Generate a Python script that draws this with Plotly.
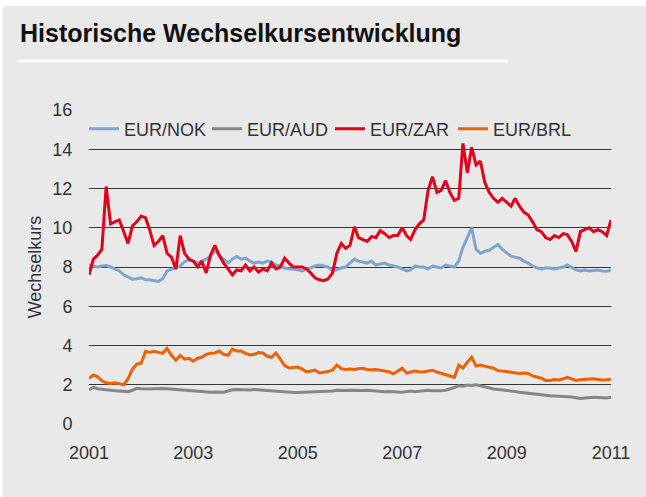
import pandas as pd
import plotly.graph_objects as go

months = pd.date_range(start="2001-01-01", periods=121, freq="MS")

eur_nok = [
    8.10, 8.05, 8.00, 8.05, 8.07, 8.00, 7.90, 7.80, 7.60, 7.50,
    7.38, 7.40, 7.45, 7.35, 7.35, 7.30, 7.27, 7.40, 7.80, 7.88,
    7.95, 8.05, 8.27, 8.35, 8.30, 8.20, 8.30, 8.40, 8.55, 8.85,
    8.60, 8.40, 8.20, 8.40, 8.55, 8.40, 8.45, 8.30, 8.20, 8.25,
    8.20, 8.30, 8.25, 8.10, 8.05, 7.95, 7.90, 7.90, 7.85, 7.80,
    7.90, 7.95, 8.05, 8.10, 8.05, 8.00, 7.80, 7.85, 7.95, 8.00,
    8.20, 8.40, 8.30, 8.25, 8.20, 8.30, 8.10, 8.15, 8.20, 8.10,
    8.05, 8.00, 7.90, 7.80, 7.85, 8.05, 8.00, 8.00, 7.90, 8.05,
    8.00, 7.95, 8.10, 8.05, 8.00, 8.30, 9.00, 9.50, 10.00, 8.90,
    8.70, 8.80, 8.85, 9.00, 9.15, 8.90, 8.70, 8.55, 8.50, 8.45,
    8.30, 8.20, 8.05, 7.95, 7.90, 7.95, 7.95, 7.90, 7.95, 8.00,
    8.10, 7.95, 7.85, 7.80, 7.85, 7.80, 7.82, 7.85, 7.80, 7.78,
    7.85,
]

eur_aud = [
    1.73, 1.87, 1.80, 1.76, 1.74, 1.72, 1.70, 1.69, 1.67, 1.65,
    1.72, 1.82, 1.80, 1.78, 1.78, 1.80, 1.82, 1.81, 1.80, 1.78,
    1.77, 1.76, 1.73, 1.72, 1.70, 1.66, 1.64, 1.63, 1.62, 1.63,
    1.64, 1.62, 1.68, 1.74, 1.76, 1.74, 1.72, 1.73, 1.76, 1.74,
    1.72, 1.70, 1.69, 1.66, 1.63, 1.61, 1.60, 1.60, 1.60, 1.61,
    1.62, 1.63, 1.64, 1.65, 1.65, 1.66, 1.68, 1.72, 1.70, 1.71,
    1.72, 1.71, 1.70, 1.71, 1.72, 1.70, 1.68, 1.67, 1.64, 1.66,
    1.64, 1.63, 1.62, 1.65, 1.68, 1.64, 1.66, 1.68, 1.72, 1.69,
    1.68, 1.70, 1.72, 1.78, 1.86, 1.95, 1.93, 1.98, 1.96, 2.00,
    1.96, 1.88, 1.84, 1.78, 1.76, 1.74, 1.72, 1.68, 1.66, 1.62,
    1.60, 1.58, 1.54, 1.52, 1.50, 1.47, 1.44, 1.43, 1.41, 1.40,
    1.38, 1.37, 1.34, 1.30, 1.33, 1.36, 1.36, 1.35, 1.34, 1.33,
    1.36,
]

eur_zar = [
    7.60, 8.40, 8.60, 8.90, 12.10, 10.20, 10.30, 10.40, 9.80, 9.20,
    10.10, 10.30, 10.60, 10.50, 9.90, 9.10, 9.30, 9.60, 8.70, 8.50,
    7.90, 9.60, 8.70, 8.40, 8.30, 8.00, 8.30, 7.70, 8.60, 9.10,
    8.60, 8.20, 7.90, 7.60, 7.85, 7.80, 8.10, 7.80, 8.00, 7.75,
    7.90, 7.80, 8.20, 7.90, 8.00, 8.45, 8.20, 8.00, 8.00, 8.00,
    7.90, 7.70, 7.45, 7.35, 7.30, 7.40, 7.70, 8.70, 9.20, 8.95,
    9.10, 10.05, 9.50, 9.40, 9.30, 9.55, 9.50, 9.85, 9.70, 9.50,
    9.60, 9.60, 10.00, 9.60, 9.40, 9.90, 10.20, 10.40, 11.90, 12.60,
    11.80, 11.90, 12.40, 11.80, 11.40, 11.50, 14.30, 12.80, 14.10, 13.20,
    13.40, 12.30, 11.80, 11.50, 11.30, 11.50, 11.30, 11.10, 11.50, 11.10,
    10.80, 10.65, 10.30, 9.90, 9.80, 9.50, 9.40, 9.60, 9.50, 9.70,
    9.65, 9.30, 8.80, 9.80, 9.90, 10.00, 9.80, 9.90, 9.80, 9.60,
    10.40,
]

eur_brl = [
    2.33, 2.50, 2.42, 2.20, 2.10, 2.06, 2.10, 2.05, 2.00, 2.30,
    2.80, 3.05, 3.10, 3.70, 3.65, 3.70, 3.65, 3.60, 3.85, 3.50,
    3.25, 3.50, 3.30, 3.35, 3.20, 3.35, 3.40, 3.55, 3.60, 3.62,
    3.72, 3.55, 3.50, 3.82, 3.72, 3.72, 3.60, 3.52, 3.55, 3.64,
    3.62, 3.45, 3.40, 3.62, 3.30, 2.98, 2.85, 2.88, 2.90, 2.80,
    2.65, 2.70, 2.75, 2.60, 2.63, 2.67, 2.75, 3.00, 2.82, 2.78,
    2.80, 2.78, 2.82, 2.84, 2.78, 2.76, 2.78, 2.74, 2.72, 2.66,
    2.56, 2.70, 2.84, 2.60, 2.64, 2.70, 2.66, 2.65, 2.70, 2.74,
    2.65, 2.58, 2.50, 2.42, 2.38, 3.00, 2.85, 3.15, 3.40, 2.95,
    3.00, 2.95, 2.90, 2.84, 2.72, 2.68, 2.67, 2.64, 2.60, 2.58,
    2.60, 2.57, 2.45, 2.38, 2.33, 2.22, 2.22, 2.27, 2.24, 2.30,
    2.38, 2.30, 2.22, 2.26, 2.27, 2.30, 2.30, 2.27, 2.24, 2.25,
    2.28,
]

series = [
    ("EUR/NOK", eur_nok, "#7fa5cf"),
    ("EUR/AUD", eur_aud, "#878787"),
    ("EUR/ZAR", eur_zar, "#e2001a"),
    ("EUR/BRL", eur_brl, "#f06000"),
]

y_ticks = [0, 2, 4, 6, 8, 10, 12, 14, 16]
x_tick_years = ["2001", "2003", "2005", "2007", "2009", "2011"]

fig = go.Figure()
for name, vals, color in series:
    fig.add_trace(go.Scatter(
        x=months, y=vals, mode="lines", name=name,
        line=dict(color=color, width=3),
    ))

W, H = 646, 497
L, R, T, B = 89, 35, 110, 73
pw, ph = W - L - R, H - T - B

def px(x):
    return (x - L) / pw

def py(y):
    return (H - B - y) / ph

font_family = "Liberation Sans, Arial, Helvetica, sans-serif"

fig.update_layout(
    width=W, height=H,
    margin=dict(l=L, r=R, t=T, b=B, pad=0, autoexpand=False),
    paper_bgcolor="#e9e9e9",
    plot_bgcolor="#e9e9e9",
    font=dict(family=font_family, size=18, color="#333333"),
    showlegend=True,
    legend=dict(
        orientation="h", xref="container", yref="container",
        x=84 / W, y=1 - 129 / H, xanchor="left", yanchor="middle",
        bgcolor="rgba(0,0,0,0)", font=dict(size=18, color="#333333"),
        itemwidth=30, tracegroupgap=0,
        entrywidth=78, entrywidthmode="pixels",
    ),
    xaxis=dict(
        range=[months[0], months[-1]],
        tickvals=[pd.Timestamp(y + "-01-01") for y in x_tick_years],
        ticktext=x_tick_years,
        showgrid=False, zeroline=False, showline=False,
        ticks="outside", ticklen=12, tickcolor="rgba(0,0,0,0)",
        tickfont=dict(size=18, color="#333333"),
    ),
    yaxis=dict(
        range=[0, 16], tickvals=y_ticks,
        showgrid=True, gridcolor="#363636", gridwidth=1.2,
        zeroline=False, showline=False,
        ticks="outside", ticklen=12, tickcolor="rgba(0,0,0,0)",
        tickfont=dict(size=18, color="#333333"),
        title=dict(text="Wechselkurs", font=dict(size=18, color="#333333"), standoff=6),
    ),
    shapes=[
        dict(type="rect", xref="paper", yref="paper", x0=px(-5), x1=px(W + 5),
             y0=py(6), y1=py(-5), fillcolor="white", line=dict(width=0), layer="below"),
        dict(type="rect", xref="paper", yref="paper", x0=px(-5), x1=px(3),
             y0=py(H + 5), y1=py(-5), fillcolor="white", line=dict(width=0), layer="below"),
        dict(type="line", xref="paper", yref="paper", x0=px(18), x1=px(508),
             y0=py(61), y1=py(61), line=dict(color="white", width=2.5)),
    ],
    annotations=[
        dict(text="<b>Historische Wechselkursentwicklung</b>", xref="paper", yref="paper",
             x=px(18), y=py(33), xanchor="left", yanchor="middle", showarrow=False,
             font=dict(size=25, color="#111111", family=font_family)),
    ],
)

fig.write_html("out.html", post_script="document.body.style.margin='0';",
               config={"displayModeBar": False})
